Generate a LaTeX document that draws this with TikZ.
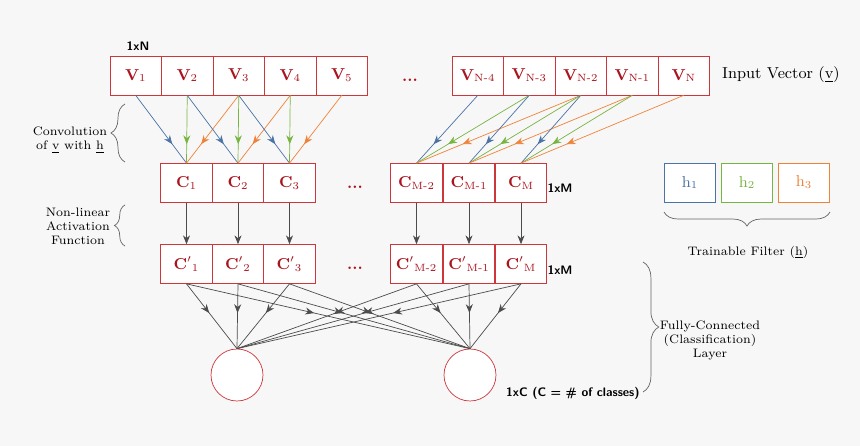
\documentclass[tikz,border=0pt]{standalone}
\usepackage{amsmath}
\usetikzlibrary{decorations.markings,decorations.pathreplacing,arrows.meta}
\definecolor{boxred}{RGB}{205,55,60}
\definecolor{txtred}{RGB}{170,20,30}
\definecolor{hblue}{RGB}{75,115,165}
\definecolor{hgreen}{RGB}{120,180,65}
\definecolor{horange}{RGB}{240,130,55}
\definecolor{bg}{RGB}{247,247,247}
\newcommand{\sub}[1]{\textsubscript{\normalfont #1}}
\tikzset{
  cell/.style={draw=boxred, fill=white, minimum width=1.03cm, minimum height=0.78cm,
    inner sep=0pt, font=\small\bfseries, text=txtred},
  mid/.style={postaction={decorate}, decoration={markings,
    mark=at position #1 with {\arrow{Stealth[length=5pt,width=4pt]}}}},
  conv/.style={thin, mid=0.72},
  fc/.style={draw=black!70, thin, mid=0.45},
  lab/.style={font=\sffamily\scriptsize\bfseries},
  side/.style={font=\scriptsize, align=center}
}
\begin{document}
\begin{tikzpicture}[x=0.02cm, y=-0.02cm]
  \fill[bg] (0,0) rectangle (860,446);
  \useasboundingbox (0,0) rectangle (860,446);

  % input vector
  \foreach \i/\t [count=\k] in {1/V\sub{1}, 2/V\sub{2}, 3/V\sub{3}, 4/V\sub{4}, 5/V\sub{5}}
    \node[cell] (v\i) at (110+51.5*\k-25.75, 75.5) {\t};
  \foreach \i/\t [count=\k] in {a/V\sub{N-4}, b/V\sub{N-3}, c/V\sub{N-2}, d/V\sub{N-1}, e/V\sub{N}}
    \node[cell] (v\i) at (452+51.5*\k-25.75, 75.5) {\t};
  \node[font=\small\bfseries, text=txtred] (vdots) at (410,80) {...};
  \node[lab] (n1) at (138,46) {1xN};
  \node[font=\small, anchor=west] (inp) at (716,75) {Input Vector (\underline{v})};

  % convolution outputs
  \foreach \i/\t/\x in {1/C\sub{1}/186.5, 2/C\sub{2}/238, 3/C\sub{3}/289.5, a/C\sub{M-2}/416.5, b/C\sub{M-1}/469, c/C\sub{M}/521}
    \node[cell] (c\i) at (\x,183) {\t};
  \node[font=\small\bfseries, text=txtred] (cdots) at (355,187) {...};
  \node[lab] (n2) at (560,188) {1xM};

  % activations
  \foreach \i/\t/\x in {1/C$'$\sub{1}/186.5, 2/C$'$\sub{2}/238, 3/C$'$\sub{3}/289.5, a/C$'$\sub{M-2}/416.5, b/C$'$\sub{M-1}/469, c/C$'$\sub{M}/521}
    \node[cell] (d\i) at (\x,264) {\t};
  \node[font=\small\bfseries, text=txtred] (ddots) at (355,268) {...};
  \node[lab] (n3) at (560,270) {1xM};

  % output neurons
  \node[circle, draw=boxred, fill=white, minimum size=1.04cm] (o1) at (237,375) {};
  \node[circle, draw=boxred, fill=white, minimum size=1.04cm] (o2) at (470,375) {};
  \node[lab, anchor=west] (n4) at (500,393) {1xC (C = \# of classes)};

  % convolution arrows
  \foreach \a/\b/\c/\o in {1/2/3/1, 2/3/4/2, 3/4/5/3, a/b/c/a, b/c/d/b, c/d/e/c} {
    \draw[hblue, conv] (v\a.south) -- (c\o.north);
    \draw[hgreen, conv] (v\b.south) -- (c\o.north);
    \draw[horange, conv] (v\c.south) -- (c\o.north);
  }

  % activation arrows
  \foreach \i in {1,2,3,a,b,c}
    \draw[draw=black!70, thin, -{Stealth[length=5pt,width=4pt]}] (c\i.south) -- (d\i.north);

  % fully connected
  \foreach \i in {1,2,3,a,b,c} {
    \draw[fc] (d\i.south) -- (o1.north);
    \draw[fc] (d\i.south) -- (o2.north);
  }

  % filters
  \node[cell, draw=hblue, text=hblue, font=\small] (h1) at (690,182.5) {h\sub{1}};
  \node[cell, draw=hgreen, text=hgreen, font=\small] (h2) at (747,182.5) {h\sub{2}};
  \node[cell, draw=horange, text=horange, font=\small] (h3) at (804,182.5) {h\sub{3}};
  \draw[decorate, decoration={brace, amplitude=8pt}, black!60] (830,212) -- (664,212);
  \node[side] (tf) at (748,252) {Trainable Filter (\underline{h})};

  % side braces
  \draw[decorate, decoration={brace, amplitude=8pt}, black!60] (125,162) -- (125,104);
  \node[side] (cv) at (70,140) {Convolution\\of \underline{v} with \underline{h}};
  \draw[decorate, decoration={brace, amplitude=6pt}, black!60] (125,246) -- (125,205);
  \node[side] (nl) at (78,226) {Non-linear\\Activation\\Function};
  \draw[decorate, decoration={brace, amplitude=9pt}, black!60] (643,262) -- (643,392);
  \node[side] (fl) at (710,340) {Fully-Connected\\(Classification)\\Layer};
\end{tikzpicture}
\end{document}
